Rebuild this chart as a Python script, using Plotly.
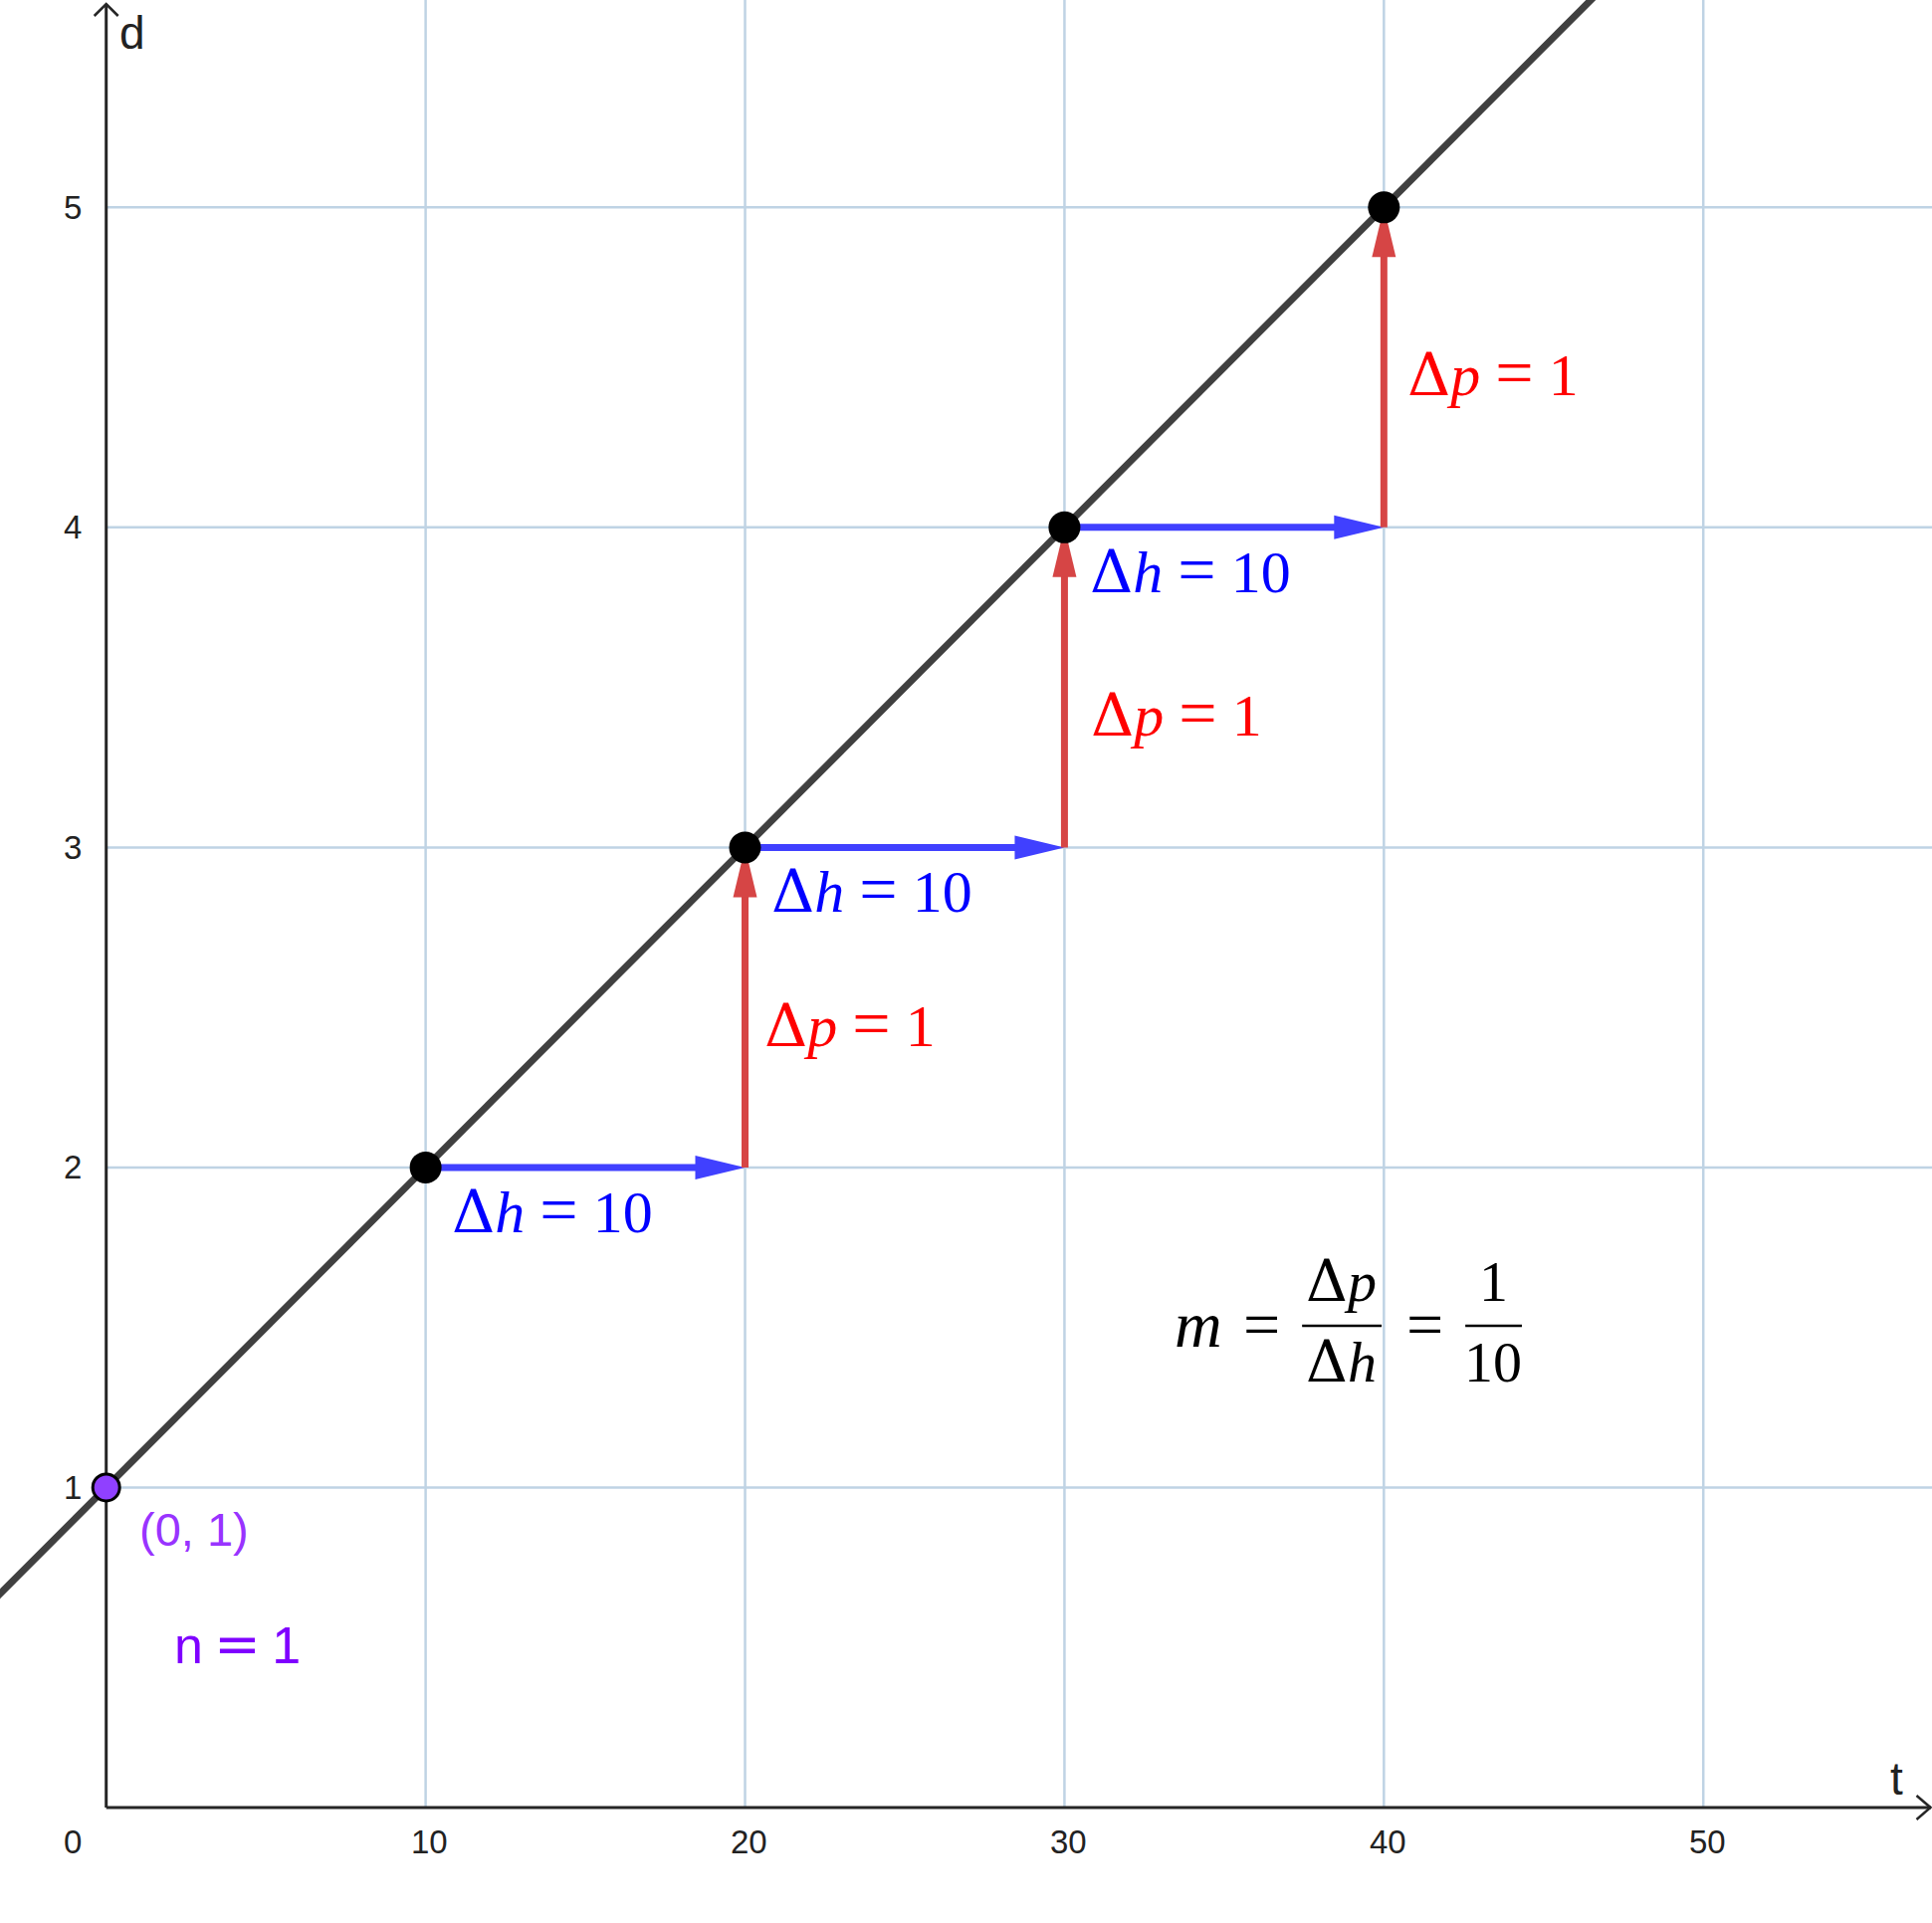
import plotly.graph_objects as go

# ---------------- data ----------------
x_ticks = [10, 20, 30, 40, 50]
y_ticks = [1, 2, 3, 4, 5]
x_tick_labels = ["10", "20", "30", "40", "50"]
y_tick_labels = ["1", "2", "3", "4", "5"]
origin_label = "0"

intercept = 1
slope = 0.1
line_t = [-10, 60]
line_d = [intercept + slope * t for t in line_t]

pts_t = [10, 20, 30, 40]
pts_d = [2, 3, 4, 5]

dh_start_t = [10, 20, 30]
dh_end_t = [20, 30, 40]
dh_d = [2, 3, 4]

dp_t = [20, 30, 40]
dp_start = [2, 3, 4]
dp_end = [3, 4, 5]

dh_value = "10"
dp_value = "1"
n_value = "1"
slope_num = "1"
slope_den = "10"
y_int_t = [0]
y_int_d = [1]

# ---------------- layout constants ----------------
W, H = 1941, 1932
XR = [-3.325, 57.16]
YR = [-0.361, 5.648]
sx = W / (XR[1] - XR[0])   # px per t unit
sy = H / (YR[1] - YR[0])   # px per d unit

GRID = "#bfd3e4"
AXIS = "#262626"
BLUE = "#4040ff"
RED = "#d64545"
PURPLE = "#9040ff"
SERIF = "Liberation Serif, Times New Roman, serif"
SANS = "Liberation Sans, Arial, sans-serif"

DELTA = '<span style="font-family:DejaVu Serif">Δ</span>'
EQ = ' <span style="font-size:68px">=</span> '

fig = go.Figure()
shapes = []
ann = []

# grid (first quadrant only)
for xv in x_ticks:
    shapes.append(dict(type="line", xref="x", yref="y", x0=xv, x1=xv, y0=0, y1=YR[1],
                       line=dict(color=GRID, width=2.5), layer="below"))
for yv in y_ticks:
    shapes.append(dict(type="line", xref="x", yref="y", x0=0, x1=XR[1], y0=yv, y1=yv,
                       line=dict(color=GRID, width=2.5), layer="below"))

# axes
shapes.append(dict(type="line", xref="x", yref="y", x0=0, x1=XR[1] - 1 / sx, y0=0, y1=0,
                   line=dict(color=AXIS, width=3), layer="below"))
shapes.append(dict(type="line", xref="x", yref="y", x0=0, x1=0, y0=0, y1=YR[1] - 4 / sy,
                   line=dict(color=AXIS, width=3), layer="below"))
# axis chevrons
tipx = XR[1] - 1.5 / sx
fig.add_trace(go.Scatter(x=[tipx - 14 / sx, tipx, tipx - 14 / sx], y=[12 / sy, 0, -12 / sy],
                         mode="lines", line=dict(color=AXIS, width=2.5), hoverinfo="skip"))
tipy = YR[1] - 4 / sy
fig.add_trace(go.Scatter(x=[-12 / sx, 0, 12 / sx], y=[tipy - 12 / sy, tipy, tipy - 12 / sy],
                         mode="lines", line=dict(color=AXIS, width=2.5), hoverinfo="skip"))

# main line
fig.add_trace(go.Scatter(x=line_t, y=line_d, mode="lines",
                         line=dict(color="#404040", width=7), hoverinfo="skip"))

HL = 50   # arrow head length px
HW = 12   # arrow head half width px

# horizontal (blue) arrows
for a, b, yv in zip(dh_start_t, dh_end_t, dh_d):
    base = b - HL / sx
    fig.add_trace(go.Scatter(x=[a, base + 4 / sx], y=[yv, yv], mode="lines",
                             line=dict(color=BLUE, width=7), hoverinfo="skip"))
    fig.add_trace(go.Scatter(x=[b, base, base, b], y=[yv, yv + HW / sy, yv - HW / sy, yv],
                             mode="lines", fill="toself", fillcolor=BLUE,
                             line=dict(color=BLUE, width=0), hoverinfo="skip"))

# vertical (red) arrows
for xv, a, b in zip(dp_t, dp_start, dp_end):
    base = b - HL / sy
    fig.add_trace(go.Scatter(x=[xv, xv], y=[a, base + 4 / sy], mode="lines",
                             line=dict(color=RED, width=7), hoverinfo="skip"))
    fig.add_trace(go.Scatter(x=[xv, xv - HW / sx, xv + HW / sx, xv], y=[b, base, base, b],
                             mode="lines", fill="toself", fillcolor=RED,
                             line=dict(color=RED, width=0), hoverinfo="skip"))

# points
fig.add_trace(go.Scatter(x=pts_t, y=pts_d, mode="markers",
                         marker=dict(color="black", size=32, line=dict(width=0)), hoverinfo="skip"))
fig.add_trace(go.Scatter(x=y_int_t, y=y_int_d, mode="markers",
                         marker=dict(color=PURPLE, size=27, line=dict(color="black", width=3)),
                         hoverinfo="skip"))

# tick labels
tick_font = dict(family=SANS, size=33, color="#222222")
for xv, lab in zip(x_ticks, x_tick_labels):
    ann.append(dict(x=xv + 4 / sx, y=-34.7 / sy, text=lab, showarrow=False,
                    xanchor="center", yanchor="middle", font=tick_font))
for yv, lab in zip(y_ticks, y_tick_labels):
    ann.append(dict(x=-34 / sx, y=yv, text=lab, showarrow=False,
                    xanchor="center", yanchor="middle", font=tick_font))
ann.append(dict(x=-34 / sx, y=-34.7 / sy, text=origin_label, showarrow=False,
                xanchor="center", yanchor="middle", font=tick_font))

# axis names
ann.append(dict(x=XR[1] - 36 / sx, y=29 / sy, text="t", showarrow=False,
                xanchor="center", yanchor="middle", font=dict(family=SANS, size=46, color="#222222")))
ann.append(dict(x=26 / sx, y=YR[1] - 33 / sy, text="d", showarrow=False,
                xanchor="center", yanchor="middle", font=dict(family=SANS, size=46, color="#222222")))

MATH = 60
# Δh labels
for a, yv in zip(dh_start_t, dh_d):
    ann.append(dict(x=a + 0.75, y=yv - 0.13, text=DELTA + "<i>h</i>" + EQ + dh_value, showarrow=False,
                    xanchor="left", yanchor="middle",
                    font=dict(family=SERIF, size=MATH, color="#0000ff")))
# Δp labels
dp_label_pos = [(20.55, 2.45), (30.78, 3.42), (40.68, 4.485)]
for (lx, ly) in dp_label_pos:
    ann.append(dict(x=lx, y=ly, text=DELTA + "<i>p</i>" + EQ + dp_value, showarrow=False,
                    xanchor="left", yanchor="middle",
                    font=dict(family=SERIF, size=MATH, color="#ff0000")))

# slope formula
blk = dict(family=SERIF, size=58, color="black")
EQ2 = '<span style="font-size:66px">=</span>'
ann.append(dict(x=34.18, y=1.509, text='<i><span style="font-size:66px">m</span></i>', showarrow=False,
                xanchor="center", yanchor="middle", font=blk))
ann.append(dict(x=36.17, y=1.509, text=EQ2, showarrow=False, xanchor="center", yanchor="middle", font=blk))
ann.append(dict(x=38.68, y=1.644, text=DELTA + "<i>p</i>", showarrow=False, xanchor="center", yanchor="middle", font=blk))
ann.append(dict(x=38.68, y=1.393, text=DELTA + "<i>h</i>", showarrow=False, xanchor="center", yanchor="middle", font=blk))
ann.append(dict(x=41.27, y=1.509, text=EQ2, showarrow=False, xanchor="center", yanchor="middle", font=blk))
ann.append(dict(x=43.43, y=1.644, text=slope_num, showarrow=False, xanchor="center", yanchor="middle", font=blk))
ann.append(dict(x=43.43, y=1.393, text=slope_den, showarrow=False, xanchor="center", yanchor="middle", font=blk))
shapes.append(dict(type="line", xref="x", yref="y", x0=37.44, x1=39.93, y0=1.505, y1=1.505,
                   line=dict(color="black", width=2.5)))
shapes.append(dict(type="line", xref="x", yref="y", x0=42.55, x1=44.32, y0=1.505, y1=1.505,
                   line=dict(color="black", width=2.5)))

# (0, 1) and n = 1
ann.append(dict(x=y_int_t[0] + 31 / sx, y=y_int_d[0] - 42 / sy, text="(0, 1)", showarrow=False,
                xanchor="left", yanchor="middle", font=dict(family=SANS, size=47, color="#9933ff")))
ann.append(dict(x=66 / sx, y=(1816 - 1652) / sy,
                text='n<span style="font-family:DejaVu Sans;font-size:56px">\u2009=\u2009</span>' + n_value,
                showarrow=False, xanchor="left", yanchor="middle",
                font=dict(family=SANS, size=52, color="#7f00ff")))

fig.update_layout(
    width=W, height=H, margin=dict(l=0, r=0, t=0, b=0),
    paper_bgcolor="white", plot_bgcolor="white", showlegend=False,
    xaxis=dict(range=XR, visible=False, fixedrange=True),
    yaxis=dict(range=YR, visible=False, fixedrange=True),
    shapes=shapes, annotations=ann,
)

fig.write_html("out.html", config={"displayModeBar": False},
               post_script="document.body.style.margin='0';document.body.style.overflow='hidden';")
